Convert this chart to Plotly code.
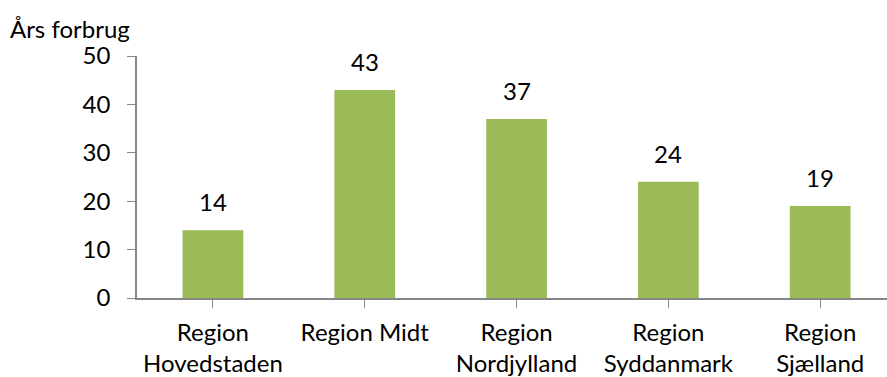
import plotly.graph_objects as go

# Annual consumption per Danish region
regions = ["Region<br>Hovedstaden", "Region Midt", "Region<br>Nordjylland",
           "Region<br>Syddanmark", "Region<br>Sjælland"]
forbrug = [14, 43, 37, 24, 19]
y_ticks = [0, 10, 20, 30, 40, 50]

FONT = "Lato, Carlito, Calibri, sans-serif"
AXIS_GREY = "#868686"
FS = 24

fig = go.Figure()
fig.add_trace(go.Bar(
    x=list(range(len(regions))),
    y=forbrug,
    marker=dict(color="#9BBB59", line=dict(width=0)),
    hoverinfo="skip",
))

# value labels above each bar
for i, v in enumerate(forbrug):
    fig.add_annotation(x=i, y=v, text=str(v), showarrow=False,
                       yanchor="bottom", yshift=12,
                       font=dict(family=FONT, size=FS, color="#000000"))

fig.add_annotation(x=0, xref="paper", xanchor="left", xshift=-129,
                   y=50, yref="y", yanchor="bottom", yshift=11,
                   text="Års forbrug", showarrow=False,
                   font=dict(family=FONT, size=FS, color="#000000"))

fig.update_layout(
    width=887, height=377,
    margin=dict(l=137, r=0, t=56, b=79),
    paper_bgcolor="white", plot_bgcolor="white",
    bargap=0.6, showlegend=False,
    font=dict(family=FONT, size=FS, color="#000000"),
    xaxis=dict(
        range=[-0.5, 4.44],
        tickmode="array", tickvals=list(range(len(regions))), ticktext=regions,
        tickson="boundaries", ticks="outside", ticklen=8, tickcolor=AXIS_GREY,
        showline=True, linecolor=AXIS_GREY, linewidth=1.5,
        showgrid=False, zeroline=False, ticklabelstandoff=4,
        tickfont=dict(family=FONT, size=FS, color="#000000"),
    ),
    yaxis=dict(
        range=[0, 50], tickmode="array", tickvals=y_ticks,
        ticks="outside", ticklen=8, tickcolor=AXIS_GREY,
        showline=True, linecolor=AXIS_GREY, linewidth=1.5,
        showgrid=False, zeroline=False, ticklabelstandoff=12,
        tickfont=dict(family=FONT, size=FS, color="#000000"),
    ),
)

fig.write_html("out.html")
